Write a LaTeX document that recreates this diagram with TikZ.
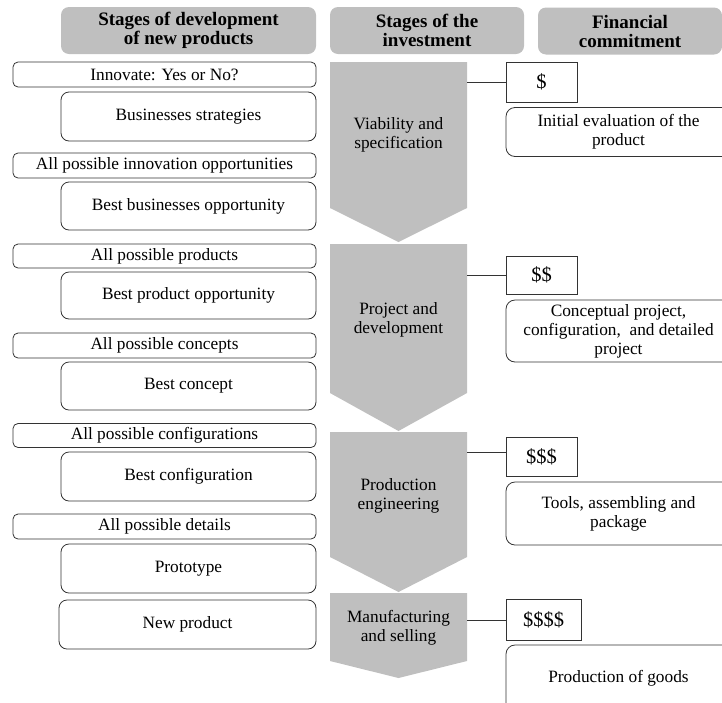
\documentclass[tikz,border=0pt]{standalone}
\usepackage{fontspec}
\setmainfont{Liberation Serif}
\definecolor{bandgray}{HTML}{BFBFBF}
\definecolor{edgegray}{HTML}{333333}
\begin{document}
\begin{tikzpicture}[x=1pt,y=-1pt,
  every node/.style={inner sep=0pt, outer sep=0pt, align=center,
    font=\fontsize{17.3}{19}\selectfont},
  head/.style={fill=bandgray, rounded corners=8pt, minimum height=47pt,
    font=\bfseries\fontsize{19}{19}\selectfont},
  option/.style={draw=edgegray, line width=0.8pt, rounded corners=5pt,
    minimum width=303pt},
  choice/.style={draw=edgegray, line width=0.8pt, rounded corners=8pt,
    minimum width=255pt},
  cost/.style={draw=edgegray, line width=0.8pt, minimum width=71pt,
    font=\fontsize{20.5}{20}\selectfont},
  note/.style={draw=edgegray, line width=0.8pt, rounded corners=9pt,
    minimum width=225pt},
  band/.style={fill=bandgray},
  link/.style={draw=edgegray, line width=0.8pt}
]
\useasboundingbox (0,0) rectangle (722,702);

% column headings
\node[head, minimum width=255pt] (h1) at (188.5,30.5) {Stages of development\\of new products};
\node[head, minimum width=194pt] (h2) at (427,30.5) {Stages of the\\investment};
\node[head, minimum width=184pt] (h3) at (630,31) {Financial\\commitment};

% development stages
\node[option, minimum height=25pt] (l1) at (164.5,74.5) {Innovate: Yes or No?};
\node[choice, minimum height=49pt] (l2) at (188.5,116.5) {Businesses strategies};
\node[option, minimum height=25pt] (l3) at (164.5,165.5) {All possible innovation opportunities};
\node[choice, minimum height=48pt] (l4) at (188.5,206) {Best businesses opportunity};
\node[option, minimum height=24pt] (l5) at (164.5,256) {All possible products};
\node[choice, minimum height=47pt] (l6) at (188.5,295.5) {Best product opportunity};
\node[option, minimum height=25pt] (l7) at (164.5,345.5) {All possible concepts};
\node[choice, minimum height=48pt] (l8) at (188.5,386) {Best concept};
\node[option, minimum height=24pt] (l9) at (164.5,435.5) {All possible configurations};
\node[choice, minimum height=49pt] (l10) at (188.5,476.5) {Best configuration};
\node[option, minimum height=25pt] (l11) at (164.5,526.5) {All possible details};
\node[choice, minimum height=49pt] (l12) at (188.5,568.5) {Prototype};
\node[choice, minimum height=49pt, minimum width=257pt] (l13) at (187.5,624.5) {New product};

% investment stages as chevrons
\path[band] (330,62) -- (467,62) -- (467,208) -- (398.5,242) -- (330,208) -- cycle;
\path[band] (330,244) -- (467,244) -- (467,393) -- (398.5,431) -- (330,393) -- cycle;
\path[band] (330,432) -- (467,432) -- (467,557) -- (398.5,592) -- (330,557) -- cycle;
\path[band] (330,593) -- (467,593) -- (467,661) -- (398.5,678) -- (330,661) -- cycle;
\node (s1) at (398.5,134.5) {Viability and\\specification};
\node (s2) at (398.5,319.5) {Project and\\development};
\node (s3) at (398.5,496) {Production\\engineering};
\node (s4) at (398.5,627.5) {Manufacturing\\and selling};
\coordinate (e1) at (467,82);
\coordinate (e2) at (467,275);
\coordinate (e3) at (467,452);
\coordinate (e4) at (467,620);

% financial commitment
\node[cost, minimum height=40pt] (c1) at (541.5,82) {\$};
\node[cost, minimum height=38pt] (c2) at (541.5,275) {\$\$};
\node[cost, minimum height=39pt] (c3) at (541.5,456.5) {\$\$\$};
\node[cost, minimum height=41pt, minimum width=75pt] (c4) at (543.5,619.5) {\$\$\$\$};
\node[note, minimum height=49pt] (n1) at (618.5,132) {Initial evaluation of the\\product};
\node[note, minimum height=62pt] (n2) at (618.5,331) {Conceptual project,\\configuration,\ \ and detailed\\project};
\node[note, minimum height=63pt] (n3) at (618.5,513.5) {Tools, assembling and\\package};
\node[note, minimum height=67pt] (n4) at (618.5,678.5) {Production of goods};

% connectors from chevrons to costs
\draw[link] (e1) -- (e1 -| c1.west);
\draw[link] (e2) -- (e2 -| c2.west);
\draw[link] (e3) -- (e3 -| c3.west);
\draw[link] (e4) -- (e4 -| c4.west);
\end{tikzpicture}
\end{document}
